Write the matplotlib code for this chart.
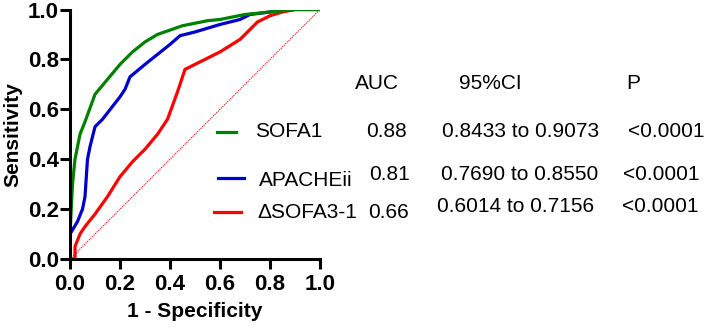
import matplotlib
matplotlib.use("Agg")
import matplotlib.pyplot as plt

plt.rcParams['font.family'] = ['Liberation Sans', 'DejaVu Sans']

# ROC curves
sofa1_x = [0, 0, 0.005, 0.01, 0.02, 0.04, 0.06, 0.1, 0.15, 0.2, 0.25, 0.3, 0.35, 0.45, 0.55, 0.6, 0.7, 0.8, 0.9, 1.0]
sofa1_y = [0, 0.1, 0.2, 0.3, 0.4, 0.5, 0.55, 0.66, 0.72, 0.78, 0.83, 0.87, 0.9, 0.935, 0.955, 0.96, 0.98, 0.99, 1.0, 1.0]

apache_x = [0, 0, 0.03, 0.05, 0.06, 0.07, 0.08, 0.1, 0.13, 0.2, 0.22, 0.24, 0.3, 0.35, 0.4, 0.44, 0.5, 0.6, 0.68, 0.72, 0.8, 0.85, 1.0]
apache_y = [0, 0.1, 0.15, 0.2, 0.25, 0.4, 0.45, 0.53, 0.56, 0.65, 0.68, 0.73, 0.78, 0.82, 0.86, 0.895, 0.91, 0.94, 0.96, 0.98, 0.99, 1.0, 1.0]

dsofa_x = [0, 0.02, 0.02, 0.04, 0.06, 0.1, 0.15, 0.2, 0.25, 0.3, 0.35, 0.39, 0.43, 0.46, 0.5, 0.6, 0.68, 0.75, 0.8, 0.85, 0.9, 1.0]
dsofa_y = [0, 0.0, 0.05, 0.1, 0.13, 0.18, 0.25, 0.33, 0.39, 0.44, 0.5, 0.56, 0.67, 0.76, 0.78, 0.83, 0.88, 0.95, 0.975, 0.99, 1.0, 1.0]

names = ["SOFA1", "APACHEii", "\u0394SOFA3-1"]
auc = ["0.88", "0.81", "0.66"]
ci = ["0.8433 to 0.9073", "0.7690 to 0.8550", "0.6014 to 0.7156"]
pval = ["<0.0001", "<0.0001", "<0.0001"]
colors = ["#008000", "#0000cc", "#ff0000"]

fig = plt.figure(figsize=(7.1, 3.29), dpi=100)
ax = fig.add_axes([70/710, 1 - 259/329, 250/710, 249.5/329])

ax.plot([0, 1], [0, 1], color="#ff0000", lw=0.8, ls=(0, (1, 1)))
ax.plot(dsofa_x, dsofa_y, color=colors[2], lw=2.3)
ax.plot(apache_x, apache_y, color=colors[1], lw=2.3)
ax.plot(sofa1_x, sofa1_y, color=colors[0], lw=2.3)

ax.set_xlim(0, 1)
ax.set_ylim(0, 1)
ticks = [0, 0.2, 0.4, 0.6, 0.8, 1.0]
ax.set_xticks(ticks)
ax.set_yticks(ticks)
ax.set_xticklabels(["%.1f" % t for t in ticks], fontweight="bold", fontsize=16)
ax.set_yticklabels(["%.1f" % t for t in ticks], fontweight="bold", fontsize=16)
ax.spines["top"].set_visible(False)
ax.spines["right"].set_visible(False)
for s in ["left", "bottom"]:
    ax.spines[s].set_linewidth(2.2)
ax.tick_params(width=2.2, length=7)
ax.tick_params(axis="x", pad=4)
ax.tick_params(axis="y", pad=1)
ax.set_xlabel("1 - Specificity", fontweight="bold", fontsize=15, labelpad=5)
ax.set_ylabel("Sensitivity", fontweight="bold", fontsize=15, labelpad=4)

# table with AUC etc, in pixel coords of the figure
def px(x, y):
    return x / 710, 1 - y / 329

fs = 15
fig.text(*px(377, 83), "AUC", fontsize=fs, ha="center", va="center")
fig.text(*px(490, 83), "95%CI", fontsize=fs, ha="center", va="center")
fig.text(*px(633, 83), "P", fontsize=fs, ha="center", va="center")

line_pos = [(217, 236, 132), (218, 244, 178), (214, 241, 212)]
name_pos = [(255, 132), (259, 180), (257, 212)]
auc_pos = [(366, 132), (369, 175), (368, 212)]
ci_pos = [(442, 132), (441, 175), (437, 207)]
p_pos = [(628, 132), (623, 175), (622, 207)]

for i in range(3):
    x0, x1, y = line_pos[i]
    fig.add_artist(plt.Line2D([x0/710, x1/710], [1 - y/329, 1 - y/329], color=colors[i], lw=2.3))
    fig.text(*px(*name_pos[i]), names[i], fontsize=fs, va="center")
    fig.text(*px(*auc_pos[i]), auc[i], fontsize=fs, va="center")
    fig.text(*px(*ci_pos[i]), ci[i], fontsize=fs, va="center")
    fig.text(*px(*p_pos[i]), pval[i], fontsize=fs, va="center")

fig.savefig("out.png", dpi=100)
